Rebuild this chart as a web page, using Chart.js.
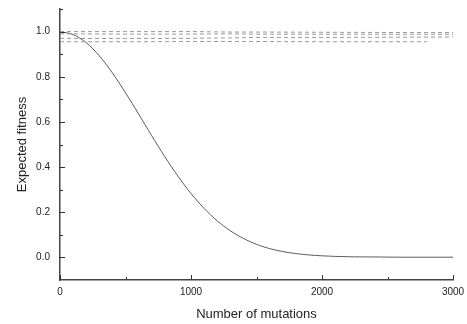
<!DOCTYPE html>
<html>
<head>
<meta charset="utf-8">
<script src="https://cdn.jsdelivr.net/npm/chart.js@4"></script>
<style>
  html, body { margin: 0; padding: 0; background: #fff; }
  #wrap { width: 467px; height: 324px; }
</style>
</head>
<body>
<div id="wrap"><canvas id="graph" width="467" height="324"></canvas></div>
<script>
// mutations (x) and expected fitness (y)
var mutations = [0, 100, 200, 300, 400, 500, 600, 700, 800, 900, 1000, 1100, 1200, 1300, 1400, 1500,
  1600, 1700, 1800, 1900, 2000, 2200, 2400, 2600, 2800, 3000];
var fitness = [1.0, 0.987, 0.951, 0.893, 0.817, 0.729, 0.635, 0.539, 0.446, 0.36, 0.283, 0.217, 0.162,
  0.118, 0.084, 0.058, 0.039, 0.026, 0.017, 0.011, 0.007, 0.003, 0.002, 0.001, 0.001, 0.001];

// the dashed lines near 1.0
var dashX = [0, 500, 1000, 1300, 1500, 2000, 2500, 3000];
var dash1 = [1.0, 1.0, 1.0, 0.998, 0.998, 0.997, 0.996, 0.996];
var dash2 = [0.99, 0.989, 0.989, 0.99, 0.989, 0.988, 0.988, 0.988];
var dash3 = [0.97, 0.969, 0.97, 0.972, 0.974, 0.974, 0.975, 0.976];
var dash4X = [0, 500, 1000, 1500, 2000, 2500, 2800];
var dash4 = [0.955, 0.955, 0.956, 0.956, 0.955, 0.955, 0.955];

var xTicks = [0, 1000, 2000, 3000];
var xMinor = [500, 1500, 2500];
var yTicks = [0.0, 0.2, 0.4, 0.6, 0.8, 1.0];
var yMinor = [0.1, 0.3, 0.5, 0.7, 0.9, 1.1];

function pts(xs, ys) { return xs.map((xi, i) => ({ x: xi, y: ys[i] })); }

function dashSet(xs, ys) {
  return { data: pts(xs, ys), borderColor: "#9a9a9a", borderWidth: 1, borderDash: [4, 3], pointRadius: 0, tension: 0 };
}

// ticks that point into the plot
const inTicks = {
  id: "inTicks",
  afterDraw(chart) {
    const ctx = chart.ctx, xs = chart.scales.x, ys = chart.scales.y;
    const left = chart.chartArea.left, bottom = chart.chartArea.bottom;
    ctx.save();
    ctx.strokeStyle = "#333";
    ctx.lineWidth = 1;
    ctx.beginPath();
    xTicks.forEach(v => { let p = Math.round(xs.getPixelForValue(v)) + 0.5; ctx.moveTo(p, bottom); ctx.lineTo(p, bottom - 5); });
    xMinor.forEach(v => { let p = Math.round(xs.getPixelForValue(v)) + 0.5; ctx.moveTo(p, bottom); ctx.lineTo(p, bottom - 3); });
    yTicks.forEach(v => { let p = Math.round(ys.getPixelForValue(v)) + 0.5; ctx.moveTo(left, p); ctx.lineTo(left + 5, p); });
    yMinor.forEach(v => { let p = Math.round(ys.getPixelForValue(v)) + 0.5; ctx.moveTo(left, p); ctx.lineTo(left + 3, p); });
    ctx.stroke();
    ctx.restore();
  }
};

const graph = new Chart("graph", {
  type: "line",
  data: {
    datasets: [
      dashSet(dashX, dash1),
      dashSet(dashX, dash2),
      dashSet(dashX, dash3),
      dashSet(dash4X, dash4),
      { data: pts(mutations, fitness), borderColor: "#5a5a5a", borderWidth: 1, pointRadius: 0, tension: 0.3 }
    ]
  },
  options: {
    responsive: false,
    animation: false,
    layout: { padding: { left: 0, right: 14, top: 9, bottom: 0 } },
    plugins: { legend: { display: false }, tooltip: { enabled: false } },
    scales: {
      x: {
        type: "linear", min: 0, max: 3000,
        afterBuildTicks: s => { s.ticks = xTicks.map(v => ({ value: v })); },
        afterFit: s => { s.height = 44; s.paddingLeft = 0; s.paddingRight = 0; },
        grid: { display: false, drawTicks: false },
        border: { display: true, color: "#444", width: 1.5 },
        ticks: { padding: 6, color: "#222", font: { family: "Liberation Sans", size: 10 }, maxRotation: 0,
          callback: v => String(v) },
        title: { display: true, text: "Number of mutations", color: "#222",
          font: { family: "Liberation Sans", size: 13 }, padding: { top: 0, bottom: 2 } }
      },
      y: {
        type: "linear", min: -0.1, max: 1.1,
        afterBuildTicks: s => { s.ticks = yTicks.map(v => ({ value: v })); },
        afterFit: s => { s.width = 60; s.paddingTop = 0; s.paddingBottom = 0; },
        grid: { display: false, drawTicks: false },
        border: { display: true, color: "#444", width: 1.5 },
        ticks: { padding: 10, color: "#222", font: { family: "Liberation Sans", size: 10 },
          callback: v => v.toFixed(1) },
        title: { display: true, text: "Expected fitness", color: "#222",
          font: { family: "Liberation Sans", size: 13 }, padding: { top: 15, bottom: 0 } }
      }
    }
  },
  plugins: [inTicks]
});
</script>
</body>
</html>
